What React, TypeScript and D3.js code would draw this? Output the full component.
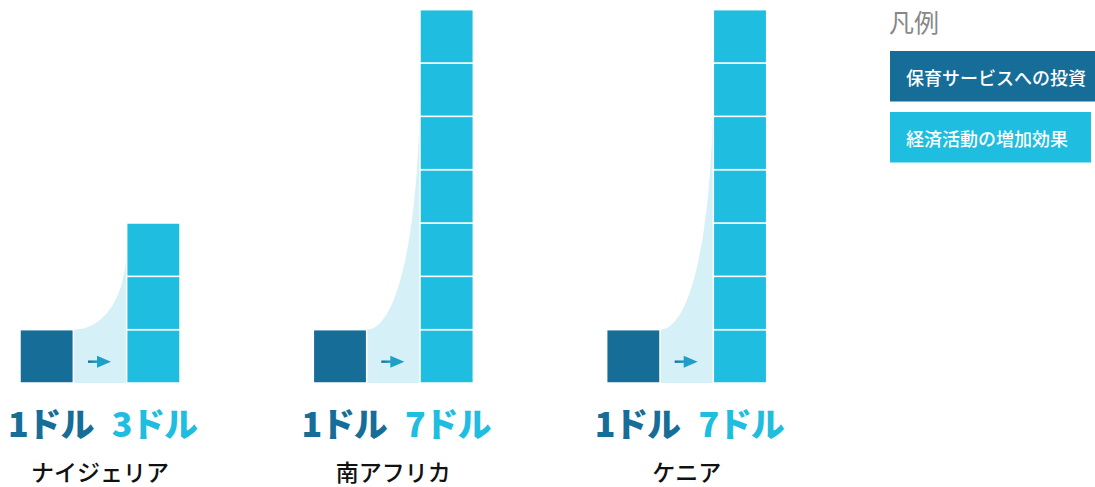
import React from "react";
import * as d3 from "d3";

const countries = ["ナイジェリア", "南アフリカ", "ケニア"];
const investment = [1, 1, 1];
const effect = [3, 7, 7];
const legendLabels = ["保育サービスへの投資", "経済活動の増加効果"];
const legendTitle = "凡例";

const DARK = "#166d98";
const LIGHT = "#1fbddf";
const AREA = "#d5f1f7";
const FONT = "'Noto Sans CJK JP', 'Noto Sans', sans-serif";

export default function App() {
  const W = 1095, H = 487;
  const cell = 160 / 3;
  const baseY = 383;
  const y = d3.scaleLinear().domain([0, 7]).range([baseY, baseY - 7 * cell]);
  const gx = d3.scaleLinear().domain([0, 1]).range([20, 20 + 5.5 * cell]);

  return (
    <svg width={W} height={H} style={{ position: "absolute", left: 0, top: 0 }} fontFamily={FONT}>
      <defs>
        <linearGradient id="arrowGrad" x1="0" x2="1" y1="0" y2="0">
          <stop offset="0%" stopColor={DARK} />
          <stop offset="100%" stopColor="#22a9cf" />
        </linearGradient>
      </defs>
      {countries.map((c, i) => {
        const x0 = gx(i);
        const x1 = x0 + cell;
        const x2 = x0 + 2 * cell;
        const topDark = y(investment[i]);
        const topStack = y(effect[i]);
        const midY = baseY - cell * 0.4;
        const curveEnd = topStack + (topDark - topStack) * 0.2;
        const areaPath = `M${x1},${baseY} L${x1},${topDark} C${x1 + cell * 0.55},${topDark} ${x2},${topDark - (topDark - curveEnd) * 0.35} ${x2},${curveEnd} L${x2},${baseY} Z`;
        const cx = (x1 + x2) / 2;
        return (
          <g key={c}>
            <path d={areaPath} fill={AREA} />
            <rect x={x0} y={topDark} width={cell} height={baseY - topDark} fill={DARK} stroke="#fff" strokeWidth={1.5} />
            {d3.range(effect[i]).map((k) => (
              <rect key={k} x={x2} y={y(k + 1)} width={cell} height={cell} fill={LIGHT} stroke="#fff" strokeWidth={1.5} />
            ))}
            <g>
              <rect x={cx - 12} y={midY - 1.2} width={12} height={2.4} fill="url(#arrowGrad)" />
              <path d={`M${cx - 3},${midY - 6} L${cx + 11},${midY} L${cx - 3},${midY + 6} Z`} fill="#1f9fc8" />
            </g>
            <text x={x0 + cell / 2 + 4} y={437} textAnchor="middle" fontSize={34} fontWeight={900} letterSpacing={-1.2} fill={DARK}>
              {`${investment[i]}ドル`}
            </text>
            <text x={x2 + cell / 2 + 1} y={437} textAnchor="middle" fontSize={34} fontWeight={900} letterSpacing={-1.2} fill={LIGHT}>
              {`${effect[i]}ドル`}
            </text>
            <text x={x0 + 1.5 * cell} y={481} textAnchor="middle" fontSize={23} fontWeight={500} fill="#111">
              {c}
            </text>
          </g>
        );
      })}
      <text x={889} y={32} fontSize={25} fill="#888">{legendTitle}</text>
      {legendLabels.map((l, i) => (
        <g key={l}>
          <rect x={890} y={51 + i * 61} width={i === 0 ? 210 : 201} height={50.5} fill={i === 0 ? DARK : LIGHT} />
          <text x={906} y={76.5 + i * 61} dominantBaseline="central" fontSize={18} fontWeight={500} fill="#fff">{l}</text>
        </g>
      ))}
    </svg>
  );
}
